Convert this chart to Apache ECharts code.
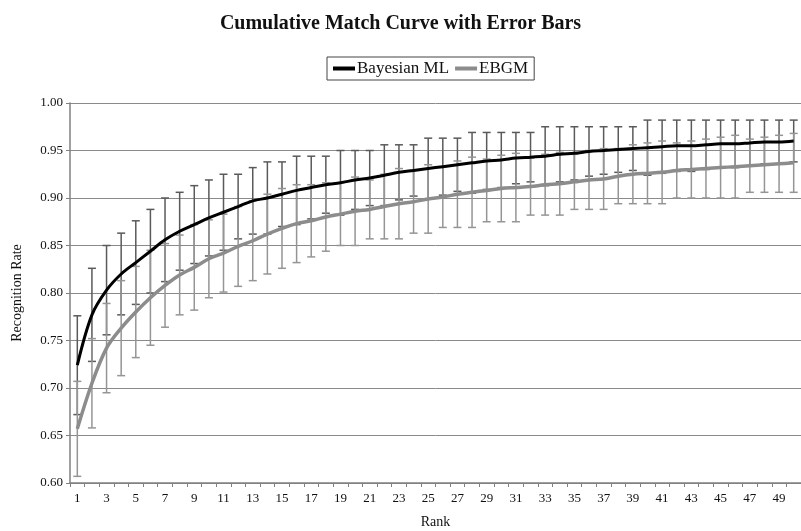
<!DOCTYPE html>
<html>
<head>
<meta charset="utf-8">
<script src="https://cdn.jsdelivr.net/npm/echarts@6/dist/echarts.min.js"></script>
<style>html,body{margin:0;padding:0;background:#fff}#c{width:801px;height:531px}</style>
</head>
<body>
<div id="c"></div>
<script>
var ranks = [];
for (var i = 1; i <= 50; i++) ranks.push(String(i));

var bayesMean = [0.724,0.777,0.803,0.820,0.832,0.844,0.856,0.865,0.872,0.879,
  0.885,0.891,0.897,0.900,0.904,0.908,0.911,0.914,0.916,0.919,
  0.921,0.924,0.927,0.929,0.931,0.933,0.935,0.937,0.939,0.940,
  0.942,0.943,0.944,0.946,0.947,0.949,0.950,0.951,0.952,0.953,
  0.954,0.955,0.955,0.956,0.957,0.957,0.958,0.959,0.959,0.960];
var bayesErr = [0.052,0.049,0.047,0.043,0.044,0.044,0.044,0.041,0.041,0.040,
  0.040,0.034,0.035,0.038,0.034,0.036,0.033,0.030,0.034,0.031,
  0.029,0.032,0.029,0.027,0.032,0.030,0.028,0.032,0.030,0.029,
  0.027,0.026,0.031,0.029,0.028,0.026,0.025,0.024,0.023,0.029,
  0.028,0.027,0.027,0.026,0.025,0.025,0.024,0.023,0.023,0.022];
var ebgmMean = [0.657,0.705,0.742,0.763,0.780,0.795,0.808,0.819,0.827,0.836,
  0.842,0.849,0.855,0.862,0.868,0.873,0.876,0.880,0.883,0.886,
  0.888,0.891,0.894,0.896,0.899,0.901,0.904,0.906,0.908,0.910,
  0.911,0.912,0.914,0.915,0.917,0.919,0.920,0.923,0.925,0.926,
  0.927,0.929,0.930,0.931,0.932,0.933,0.934,0.935,0.936,0.937];
var ebgmErr = [0.050,0.047,0.047,0.050,0.048,0.050,0.044,0.042,0.045,0.041,
  0.041,0.042,0.042,0.042,0.042,0.041,0.038,0.036,0.033,0.036,
  0.031,0.034,0.037,0.033,0.036,0.032,0.035,0.037,0.033,0.035,
  0.036,0.030,0.032,0.033,0.029,0.031,0.032,0.029,0.031,0.032,
  0.033,0.029,0.030,0.031,0.032,0.033,0.028,0.029,0.030,0.031];
var yTicks = { min: 0.6, max: 1.0, step: 0.05 };

function errData(mean, err) {
  return mean.map(function (m, i) { return [i, m - err[i], m + err[i]]; });
}
function errRender(color) {
  return function (params, api) {
    var x = api.value(0);
    var lo = api.coord([x, api.value(1)]);
    var hi = api.coord([x, api.value(2)]);
    var hw = 4;
    var st = { stroke: color, lineWidth: 1.5 };
    return {
      type: 'group',
      children: [
        { type: 'line', shape: { x1: lo[0], y1: lo[1], x2: hi[0], y2: hi[1] }, style: st },
        { type: 'line', shape: { x1: lo[0] - hw, y1: lo[1], x2: lo[0] + hw, y2: lo[1] }, style: st },
        { type: 'line', shape: { x1: hi[0] - hw, y1: hi[1], x2: hi[0] + hw, y2: hi[1] }, style: st }
      ]
    };
  };
}

var serif = '"Liberation Serif", "Times New Roman", serif';
var chart = echarts.init(document.getElementById('c'));
chart.setOption({
  animation: false,
  backgroundColor: '#fff',
  title: {
    text: 'Cumulative Match Curve with Error Bars',
    left: 'center', top: 9,
    textStyle: { fontFamily: serif, fontSize: 20, fontWeight: 'bold', color: '#111' }
  },
  legend: {
    left: 327, top: 57,
    data: [
      { name: 'Bayesian ML', icon: 'rect', itemStyle: { color: '#000' } },
      { name: 'EBGM', icon: 'rect', itemStyle: { color: '#8c8c8c' } }
    ],
    itemWidth: 22, itemHeight: 4, itemGap: 6,
    borderColor: '#444', borderWidth: 1, padding: [3, 6],
    textStyle: { fontFamily: serif, fontSize: 17, color: '#111', padding: [0, 0, 0, -3] }
  },
  grid: { left: 70, right: 0, top: 103, bottom: 48, outerBoundsMode: 'none', containLabel: false },
  xAxis: {
    type: 'category', data: ranks, boundaryGap: true,
    name: 'Rank', nameLocation: 'middle', nameGap: 32,
    nameTextStyle: { fontFamily: serif, fontSize: 14, color: '#111' },
    axisLine: { lineStyle: { color: '#808080', width: 1.5 } },
    axisTick: { show: true, interval: 0, length: 4, lineStyle: { color: '#808080' } },
    axisLabel: { interval: 1, fontFamily: serif, fontSize: 13, color: '#111', margin: 9 },
    splitLine: { show: false }
  },
  yAxis: {
    type: 'value', min: yTicks.min, max: yTicks.max, interval: yTicks.step,
    name: 'Recognition Rate', nameLocation: 'middle', nameGap: 46, nameRotate: 90,
    nameTextStyle: { fontFamily: serif, fontSize: 14, color: '#111' },
    axisLine: { show: true, lineStyle: { color: '#808080', width: 1.5 } },
    axisTick: { show: true, length: 4, lineStyle: { color: '#808080' } },
    axisLabel: { fontFamily: serif, fontSize: 13, color: '#111', margin: 7,
      formatter: function (v) { return v.toFixed(2); } },
    splitLine: { show: true, lineStyle: { color: '#8a8a8a', width: 1 } }
  },
  series: [
    { type: 'custom', name: 'BayesErr', renderItem: errRender('#5a5a5a'),
      data: errData(bayesMean, bayesErr), encode: { x: 0, y: [1, 2] }, z: 2, silent: true },
    { type: 'custom', name: 'EbgmErr', renderItem: errRender('#959595'),
      data: errData(ebgmMean, ebgmErr), encode: { x: 0, y: [1, 2] }, z: 2, silent: true },
    { type: 'line', name: 'EBGM', data: ebgmMean, smooth: 0.35,
      showSymbol: false, lineStyle: { color: '#8c8c8c', width: 3.5 }, itemStyle: { color: '#8c8c8c' }, z: 3 },
    { type: 'line', name: 'Bayesian ML', data: bayesMean, smooth: 0.35,
      showSymbol: false, lineStyle: { color: '#000', width: 3 }, itemStyle: { color: '#000' }, z: 4 }
  ]
});
</script>
</body>
</html>
